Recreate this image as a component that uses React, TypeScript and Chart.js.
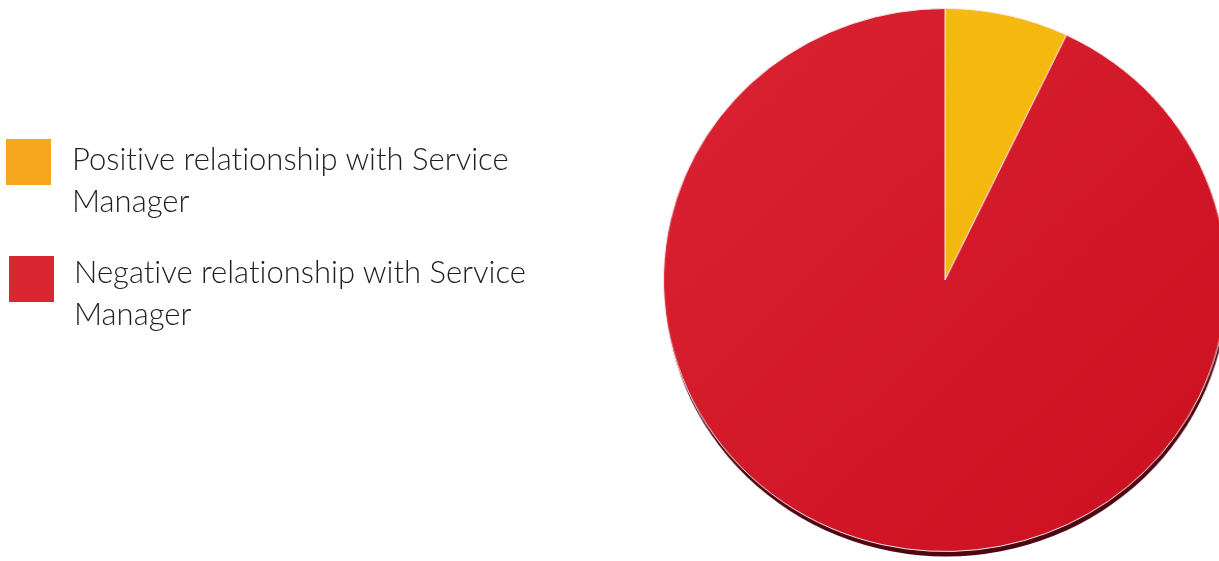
import React, { useEffect, useRef } from "react";
import { Chart, registerables } from "chart.js";

Chart.register(...registerables);

const labels = ["Positive relationship with Service Manager", "Negative relationship with Service Manager"];
const values = [7.1, 92.9];
const legendColors = ["#F5A81E", "#DA2630"];

const shadowPlugin = {
  id: "pieShadow",
  beforeDatasetsDraw(chart: any) {
    const meta = chart.getDatasetMeta(0);
    const arc = meta.data[0];
    if (!arc) return;
    const { x, y, outerRadius } = arc.getProps(["x", "y", "outerRadius"], true);
    const ctx = chart.ctx;
    ctx.save();
    ctx.beginPath();
    ctx.arc(x + 1, y + 5, outerRadius, 0, Math.PI * 2);
    ctx.fillStyle = "#4e0610";
    ctx.fill();
    ctx.restore();
  },
};

function makeFill(chart: any, idx: number) {
  const area = chart.chartArea;
  if (!area) return idx === 0 ? "#F5BA0E" : "#D41B2B";
  const ctx = chart.ctx;
  const g = ctx.createLinearGradient(area.left, area.top, area.right, area.bottom);
  if (idx === 0) {
    g.addColorStop(0, "#F6BE12");
    g.addColorStop(1, "#F2B00A");
  } else {
    g.addColorStop(0, "#DB2333");
    g.addColorStop(1, "#CB1020");
  }
  return g;
}

export default function App() {
  const ref = useRef<HTMLCanvasElement | null>(null);
  useEffect(() => {
    document.documentElement.style.overflow = "hidden";
    document.body.style.overflow = "hidden";
    const chart = new Chart(ref.current as HTMLCanvasElement, {
      type: "pie",
      data: {
        labels,
        datasets: [
          {
            data: values,
            backgroundColor: (c: any) => makeFill(c.chart, c.dataIndex),
            borderColor: "#F4E6E6",
            borderWidth: 1,
          },
        ],
      },
      options: {
        animation: false,
        responsive: true,
        maintainAspectRatio: false,
        layout: { padding: { left: 673, right: 23, top: 8, bottom: 9 } },
        plugins: { legend: { display: false }, tooltip: { enabled: false } },
      },
      plugins: [shadowPlugin],
    });
    return () => chart.destroy();
  }, []);

  const squareTop = [139, 256];
  const squareLeft = [6, 9];
  const textTop = [137, 250];
  const textLeft = [72, 74];
  return (
    <div style={{ position: "fixed", left: 0, top: 0, width: 1240, height: 561, background: "#fff", overflow: "hidden" }}>
      <div
        style={{
          position: "absolute",
          left: 0,
          top: 0,
          width: 1240,
          height: 561,
          transform: "scaleX(1.0368)",
          transformOrigin: "945px 280px",
        }}
      >
        <canvas ref={ref} />
      </div>
      {labels.map((l, i) => (
        <React.Fragment key={l}>
          <div
            style={{
              position: "absolute",
              left: squareLeft[i],
              top: squareTop[i],
              width: 45,
              height: 46,
              background: legendColors[i],
            }}
          />
          <div
            style={{
              position: "absolute",
              left: textLeft[i],
              top: textTop[i],
              width: 470,
              fontFamily: "Lato",
              fontWeight: 300,
              fontSize: 31,
              lineHeight: "42px",
              color: "#1e1e1e",
              fontVariantLigatures: "none",
            }}
          >
            {l}
          </div>
        </React.Fragment>
      ))}
    </div>
  );
}
